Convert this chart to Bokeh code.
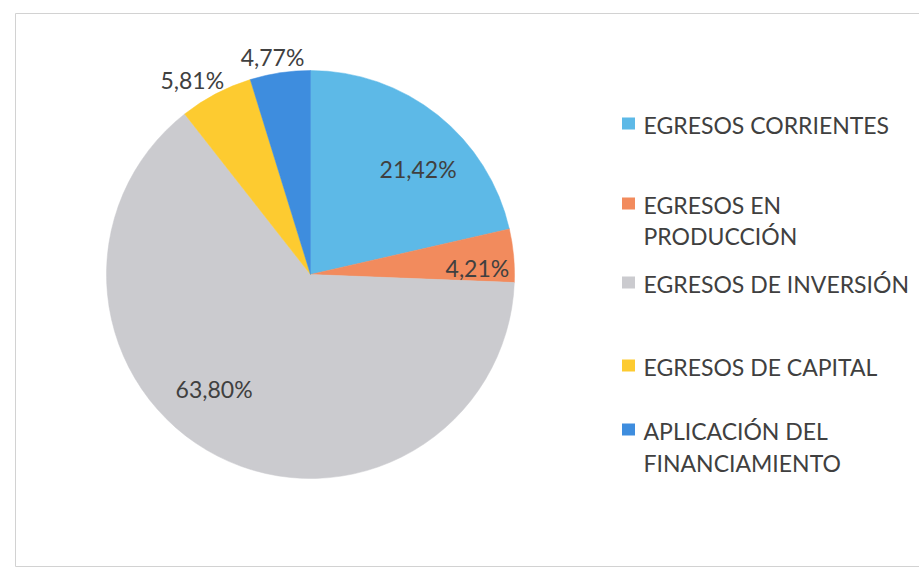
import math
from bokeh.plotting import figure
from bokeh.models import Range1d, ColumnDataSource
from bokeh.core.properties import value
from bokeh.embed import file_html
from bokeh.resources import INLINE

# ---- data ----
categories = ["EGRESOS CORRIENTES", "EGRESOS EN PRODUCCIÓN", "EGRESOS DE INVERSIÓN",
              "EGRESOS DE CAPITAL", "APLICACIÓN DEL FINANCIAMIENTO"]
legend_lines = [["EGRESOS CORRIENTES"], ["EGRESOS EN", "PRODUCCIÓN"], ["EGRESOS DE INVERSIÓN"],
                ["EGRESOS DE CAPITAL"], ["APLICACIÓN DEL", "FINANCIAMIENTO"]]
percentages = [21.42, 4.21, 63.80, 5.81, 4.77]
labels = ["21,42%", "4,21%", "63,80%", "5,81%", "4,77%"]

# ---- style ----
colors = ["#5DB9E7", "#F28B5D", "#CBCBCF", "#FDCB30", "#3E8DDE"]
W, H = 919, 572
cx, cy_px, R = 310, 274, 204
label_radius = [151, 167, 150, 228, 221]
label_shift_deg = [6.9, 3.2, 12.9, -3.6, -1.3]
legend_y_px = [[124], [204, 235], [283], [366], [430, 462]]
FONT = "Lato"
TEXT_COLOR = "#404040"

def Y(py):
    return H - py

p = figure(width=W, height=H, output_backend="svg", toolbar_location=None,
           x_range=Range1d(0, W), y_range=Range1d(0, H), min_border=0)
p.axis.visible = False
p.grid.visible = False
p.outline_line_color = None
p.background_fill_color = "white"
p.border_fill_color = "white"

# chart frame
p.quad(left=[15], right=[W + 20], top=[Y(13)], bottom=[Y(566)],
       fill_color=None, line_color="#D2D2D2", line_width=1)

# wedges
total = sum(percentages)
starts, ends, mids = [], [], []
cum = 0.0
for v in percentages:
    a0 = math.pi / 2 - 2 * math.pi * cum / total
    a1 = math.pi / 2 - 2 * math.pi * (cum + v) / total
    starts.append(a0)
    ends.append(a1)
    mids.append(360.0 * (cum + v / 2) / total)
    cum += v

src = ColumnDataSource(dict(x=[cx] * 5, y=[Y(cy_px)] * 5, start=starts, end=ends,
                            color=colors, cat=categories))
p.wedge(x="x", y="y", radius=R, start_angle="start", end_angle="end",
        direction="clock", fill_color="color", line_color="color", line_width=0.5,
        source=src)

# data labels
lx, ly = [], []
for m, r, s in zip(mids, label_radius, label_shift_deg):
    th = math.radians(90 - (m + s))
    lx.append(cx + r * math.cos(th))
    ly.append(Y(cy_px) + r * math.sin(th))
p.text(x=lx, y=ly, text=labels, text_font=value(FONT), text_font_size="23px",
       text_color=TEXT_COLOR, text_align="center", text_baseline="middle")

# legend
sq_x, sq_y, sq_c = [], [], []
tx, ty, tt = [], [], []
for lines, ys, c in zip(legend_lines, legend_y_px, colors):
    sq_x.append(628)
    sq_y.append(Y(ys[0] - 1))
    sq_c.append(c)
    for t, yy in zip(lines, ys):
        tx.append(643)
        ty.append(Y(yy))
        tt.append(t)
p.rect(x=sq_x, y=sq_y, width=13, height=12, fill_color=sq_c, line_color=None)
p.text(x=tx, y=ty, text=tt, text_font=value(FONT), text_font_size="23px",
       text_color=TEXT_COLOR, text_align="left", text_baseline="middle")

open("out.html", "w").write(file_html(p, INLINE))
